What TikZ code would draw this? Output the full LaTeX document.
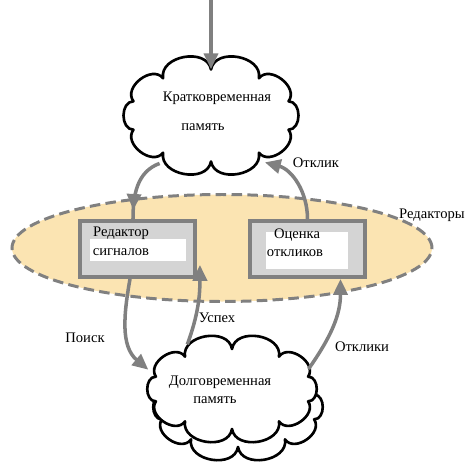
\documentclass[tikz,border=0pt]{standalone}
\usepackage{fontspec}
\setmainfont{Liberation Serif}
\usetikzlibrary{shapes.geometric,arrows.meta,decorations.markings}
\definecolor{arrgray}{RGB}{128,128,128}
\definecolor{edfill}{RGB}{251,228,178}
\definecolor{boxgray}{RGB}{212,212,212}

\begin{document}
\begin{tikzpicture}[font=\rmfamily\fontsize{8.3}{10}\selectfont, >={Triangle[length=9pt,width=8pt]}]
\tikzstyle{mem}=[ellipse, inner sep=0pt]
\tikzstyle{puff}=[draw=black, line width=1.5pt, fill=white, line join=round]
\tikzstyle{ed}=[rectangle, draw=arrgray, fill=boxgray, line width=2.2pt, minimum width=2.3cm, minimum height=1.12cm]
\tikzstyle{blank}=[rectangle, fill=white, inner sep=0pt]
\tikzstyle{tx}=[inner sep=0pt]
\tikzstyle{arr}=[->, draw=arrgray, line width=2pt]
\tikzstyle{midarr}=[draw=arrgray, line width=2pt, postaction={decorate},
  decoration={markings, mark=at position 0.86 with {\arrow[arrgray]{>}}}]
\useasboundingbox (0,0) rectangle (9.4,-9.26);

% editors
\node[ellipse, draw=arrgray, fill=edfill, dashed, dash pattern=on 6pt off 3pt, line width=1.7pt,
  minimum width=8.4cm, minimum height=2.14cm] (E) at (4.44,-4.96) {};
\node[tx] (lE) at (8.64,-4.3) {Редакторы};

\node[ed] (R1) at (2.75,-4.98) {};
\node[ed] (R2) at (6.15,-4.98) {};
\node[blank, minimum width=1.92cm, minimum height=0.44cm] (W1) at (2.76,-5.0) {};
\node[blank, minimum width=1.64cm, minimum height=0.74cm] (W2) at (6.14,-5.01) {};
\node[tx] (R1a) at (2.42,-4.66) {Редактор};
\node[tx] (R1b) at (2.42,-5.04) {сигналов};
\node[tx] (R2a) at (5.94,-4.7) {Оценка};
\node[tx] (R2b) at (5.9,-5.06) {откликов};

% memories
\node[mem, minimum width=3.66cm, minimum height=2.3cm] (M1) at (4.22,-2.31) {};
\filldraw[puff, shift={(M1.center)}] (90:1.63cm and 0.92cm)
  \foreach \a in {126,162,...,450} {to[bend right=90, looseness=1.2] (\a:1.63cm and 0.92cm)} -- cycle;
\node[tx] (M1a) at (4.34,-1.96) {Кратковременная};
\node[tx] (M1b) at (4.06,-2.54) {память};

\node[mem, minimum width=3.6cm, minimum height=2.04cm] (M2) at (4.64,-7.78) {};
\filldraw[puff, shift={(M2.center)}, xshift=0.12cm, yshift=-0.36cm] (90:1.6cm and 0.8cm)
  \foreach \a in {126,162,...,450} {to[bend right=90, looseness=1.2] (\a:1.6cm and 0.8cm)} -- cycle;
\filldraw[puff, shift={(M2.center)}] (90:1.6cm and 0.8cm)
  \foreach \a in {126,162,...,450} {to[bend right=90, looseness=1.2] (\a:1.6cm and 0.8cm)} -- cycle;
\node[tx] (M2a) at (4.4,-7.64) {Долговременная};
\node[tx] (M2c) at (4.3,-8.0) {память};

% arrows
\coordinate (in) at (4.22,0);
\draw[arr, shorten >=-0.23cm] (in) -- (in |- M1.north);
\draw[midarr] (M1.223) to[out=200,in=90] ([xshift=-0.09cm]R1.north);
\draw[arr] (R2.north) to[out=90,in=-15] (M1.-41);
\draw[arr] ([xshift=-0.15cm]R1.south) to[out=-100,in=140] (M2.167);
\draw[arr] (M2.135) to[out=70,in=-90] ([shift={(0.06,0.28)}]R1.south east);
\draw[arr, shorten <=-3pt] (M2.17) to[out=55,in=-90] ([xshift=0.66cm]R2.south);

\node[tx] (l1) at (6.32,-3.26) {Отклик};
\node[tx] (l2) at (1.7,-6.76) {Поиск};
\node[tx] (l3) at (4.34,-6.36) {Успех};
\node[tx] (l4) at (7.24,-6.94) {Отклики};
\end{tikzpicture}
\end{document}
